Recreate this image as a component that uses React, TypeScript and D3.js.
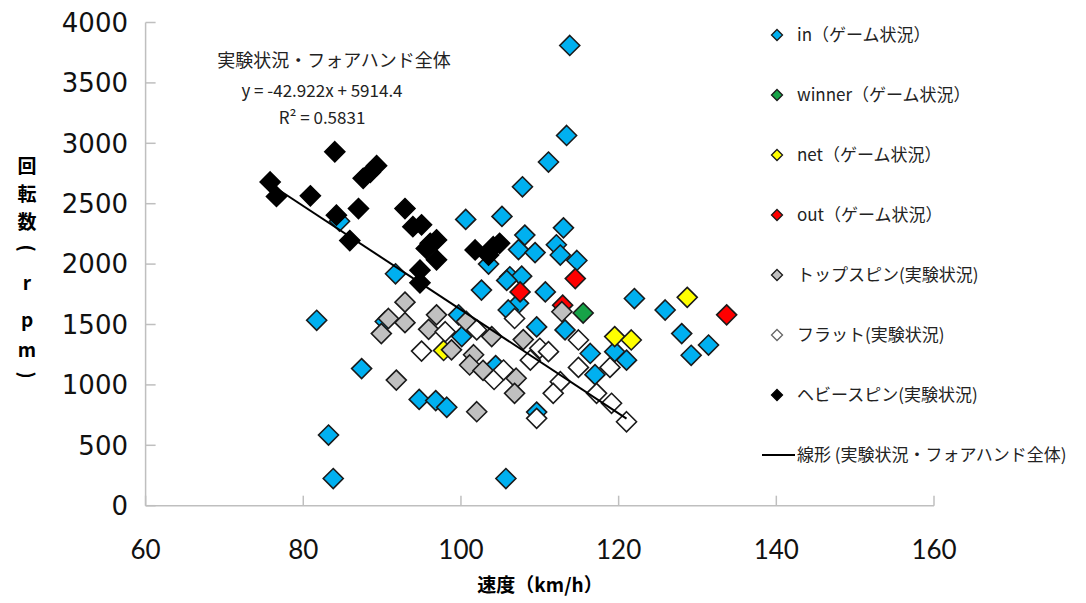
import * as d3 from 'd3';

// speed (km/h), spin (rpm)
const inData: [number, number][] = [
  [113.8, 3810], [113.4, 3065], [111.1, 2845], [107.8, 2640], [100.6, 2370],
  [105.2, 2395], [113.0, 2300], [108.1, 2240], [107.3, 2120], [109.4, 2095],
  [112.1, 2160], [112.6, 2075], [114.7, 2030], [103.5, 2000], [106.2, 1895],
  [107.7, 1900], [105.8, 1865], [102.6, 1785], [110.7, 1770], [107.3, 1675],
  [106.0, 1620], [109.6, 1480], [113.2, 1455], [122.0, 1715], [125.9, 1620],
  [128.0, 1425], [131.4, 1330], [129.2, 1245], [116.4, 1260], [119.5, 1275],
  [121.0, 1205], [117.0, 1085], [109.6, 775], [84.6, 2355], [91.7, 1920],
  [81.7, 1535], [99.7, 1580], [100.1, 1400], [90.4, 1525], [87.4, 1135],
  [94.7, 880], [96.8, 870], [98.2, 815], [83.2, 585], [83.8, 225],
  [105.7, 225], [104.4, 1160]
];
const winnerData: [number, number][] = [[115.5, 1595]];
const netData: [number, number][] = [[128.7, 1725], [119.5, 1400], [121.6, 1372], [97.8, 1285]];
const outData: [number, number][] = [[112.9, 1660], [114.5, 1880], [107.5, 1770], [133.7, 1580]];
const topspinData: [number, number][] = [
  [92.9, 1685], [90.8, 1550], [92.9, 1515], [89.9, 1425], [96.9, 1580],
  [95.9, 1460], [100.7, 1525], [103.9, 1400], [98.8, 1290], [101.6, 1250],
  [101.1, 1165], [102.8, 1120], [91.8, 1040], [102.0, 778], [112.8, 1606],
  [107.9, 1375], [107.0, 1055], [106.8, 930]
];
const flatData: [number, number][] = [
  [98.0, 1440], [102.0, 1455], [95.0, 1280], [104.2, 1045], [106.8, 1550],
  [114.9, 1372], [110.0, 1303], [111.1, 1275], [108.8, 1205], [114.9, 1145],
  [118.9, 1145], [105.4, 1123], [112.6, 1027], [111.7, 930], [117.2, 930],
  [119.1, 848], [121.0, 695], [109.6, 723]
];
const heavyData: [number, number][] = [
  [75.8, 2680], [76.6, 2560], [80.9, 2565], [84.0, 2930], [88.5, 2760],
  [89.3, 2815], [87.6, 2710], [84.2, 2405], [87.0, 2460], [85.9, 2195],
  [92.9, 2460], [93.9, 2310], [95.0, 2325], [96.1, 2172], [96.9, 2200],
  [96.9, 2035], [95.6, 2130], [94.8, 1950], [94.8, 1845], [101.8, 2117],
  [104.1, 2144], [104.9, 2172], [103.5, 2075]
];

const xTicks = [60, 80, 100, 120, 140, 160];
const yTicks = [0, 500, 1000, 1500, 2000, 2500, 3000, 3500, 4000];
const slope = -42.922;
const intercept = 5914.4;

const series = [
  { name: 'in（ゲーム状況）', data: inData, fill: '#00b0f0', stroke: '#1a1a1a' },
  { name: 'winner（ゲーム状況）', data: winnerData, fill: '#17a348', stroke: '#1a1a1a' },
  { name: 'net（ゲーム状況）', data: netData, fill: '#ffff00', stroke: '#1a1a1a' },
  { name: 'out（ゲーム状況）', data: outData, fill: '#ff0000', stroke: '#1a1a1a' },
  { name: 'トップスピン(実験状況)', data: topspinData, fill: '#c0c0c0', stroke: '#1a1a1a' },
  { name: 'フラット(実験状況)', data: flatData, fill: '#ffffff', stroke: '#1a1a1a' },
  { name: 'ヘビースピン(実験状況)', data: heavyData, fill: '#000000', stroke: '#000000' }
];

const diamond = (r: number) => `M0,${-r}L${r},0L0,${r}L${-r},0Z`;

const jp = '"Noto Sans CJK JP", "Noto Sans", sans-serif';

export default function App() {
  const width = 1086;
  const height = 603;
  const x = d3.scaleLinear().domain([60, 160]).range([145.6, 934]);
  const y = d3.scaleLinear().domain([0, 4000]).range([505.7, 22.5]);

  const expAll = [...topspinData, ...flatData, ...heavyData];
  const [x0, x1] = d3.extent(expAll, d => d[0]) as [number, number];
  const trend = d3.line<number>()
    .x(v => x(v))
    .y(v => y(slope * v + intercept));

  const legendY = [35, 95, 155, 215, 275, 335, 395];
  // vertical axis title, stacked; parens rotated
  const yTitle = [
    { t: '回', y: 166, rot: false }, { t: '転', y: 194, rot: false }, { t: '数', y: 222, rot: false },
    { t: '(', y: 248, rot: true }, { t: 'r', y: 283, rot: false }, { t: 'p', y: 320, rot: false },
    { t: 'm', y: 350, rot: false }, { t: ')', y: 375, rot: true }
  ];

  return (
    <svg width={width} height={height} style={{ position: 'absolute', left: 0, top: 0, background: '#fff' }}>
      {/* axes */}
      <g stroke="#bfbfbf" strokeWidth={1.5}>
        <line x1={x(60)} x2={x(60)} y1={y(4000)} y2={y(0)} />
        <line x1={x(60)} x2={x(160)} y1={y(0)} y2={y(0)} />
        {yTicks.map(t => (
          <line key={'yt' + t} x1={x(60)} x2={x(60) + 10} y1={y(t)} y2={y(t)} />
        ))}
        {xTicks.map(t => (
          <line key={'xt' + t} x1={x(t)} x2={x(t)} y1={y(0)} y2={y(0) - 10} />
        ))}
      </g>
      <g fontFamily='"DejaVu Sans", sans-serif' fontSize={26} fill="#111" textAnchor="end">
        {yTicks.map(t => (
          <text key={'yl' + t} x={128} y={y(t)} dy="0.36em">{t}</text>
        ))}
      </g>
      <g fontFamily='Lato, sans-serif' fontSize={26} fill="#111" textAnchor="middle">
        {xTicks.map(t => (
          <text key={'xl' + t} x={x(t)} y={559}>{t}</text>
        ))}
      </g>
      <text x={540} y={592} textAnchor="middle" fontFamily={jp} fontWeight="bold" fontSize={19}>速度（km/h）</text>
      <g fontFamily={jp} fontWeight="bold" fontSize={19} textAnchor="middle">
        {yTitle.map((c, i) => (
          <text key={'ytt' + i}
            transform={c.rot ? `translate(27,${c.y}) rotate(90)` : `translate(27,${c.y})`}
            dy="0.35em">{c.t}</text>
        ))}
      </g>

      {/* points */}
      {series.map(s => (
        <g key={s.name}>
          {s.data.map((d, i) => (
            <path key={i} d={diamond(10)} transform={`translate(${x(d[0])},${y(d[1])})`}
              fill={s.fill} stroke={s.stroke} strokeWidth={1.6} />
          ))}
        </g>
      ))}

      {/* trendline */}
      <path d={trend([x0, x1]) ?? ''} stroke="#000" strokeWidth={2} fill="none" />

      {/* annotation */}
      <g fontFamily={jp} fill="#222" textAnchor="middle">
        <text x={334} y={67} fontSize={18}>実験状況・フォアハンド全体</text>
        <text x={322} y={97} fontSize={17}>y = -42.922x + 5914.4</text>
        <text x={322} y={124} fontSize={17}>R² = 0.5831</text>
      </g>

      {/* legend */}
      <g fontFamily={jp} fontSize={17} fill="#222">
        {series.map((s, i) => (
          <g key={'lg' + i} transform={`translate(777,${legendY[i]})`}>
            <path d={diamond(5.5)} fill={s.fill} stroke={i === 5 ? '#666' : s.stroke} strokeWidth={1.3} />
            <text x={20} dy="0.35em">{s.name}</text>
          </g>
        ))}
        <line x1={762} x2={795} y1={455} y2={455} stroke="#000" strokeWidth={2} />
        <text x={797} y={455} dy="0.35em">線形 (実験状況・フォアハンド全体)</text>
      </g>
    </svg>
  );
}
